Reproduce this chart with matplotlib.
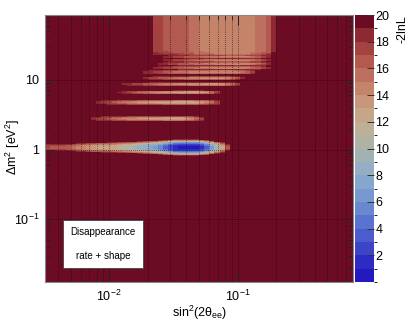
import numpy as np
import matplotlib
matplotlib.use("Agg")
import matplotlib.pyplot as plt
from matplotlib.colors import ListedColormap, BoundaryNorm
from matplotlib.ticker import LogLocator, NullFormatter, FixedLocator

plt.rcParams['font.family'] = ['Liberation Sans', 'DejaVu Sans']
plt.rcParams['mathtext.fontset'] = 'custom'
plt.rcParams['mathtext.rm'] = 'Liberation Sans'
plt.rcParams['mathtext.it'] = 'Liberation Sans:italic'
plt.rcParams['mathtext.default'] = 'regular'

# axis ranges / binning
x_lo, x_hi = 10**-2.5, 10**-0.1
y_lo, y_hi = 10**-1.9, 10**1.93
n_xbins, n_ybins = 60, 260

# main minimum near dm2 ~ 1 eV^2 : -2lnL along the valley
main_dm2 = 1.07
main_x = [0.0032, 0.0046, 0.0055, 0.0078, 0.0111, 0.0151, 0.019, 0.024, 0.0286,
          0.0343, 0.049, 0.0585, 0.0663, 0.0752, 0.0822, 0.09]
main_val = [17, 16.5, 15, 13, 12, 10, 8, 6, 3, 0.5, 0.5, 4, 8, 12, 16, 20]

# aliased stripes at higher dm2 (centre, left end, best x, right end, min value)
stripe_dm2 = [2.8, 4.7, 6.6, 8.7, 10.7, 12.9, 14.7, 16.8, 19.0, 21.3, 23.8]
stripe_xl = [0.0063, 0.0071, 0.0107, 0.0112, 0.0155, 0.0158, 0.0195, 0.021, 0.022, 0.022, 0.022]
stripe_xp = [0.034, 0.041, 0.047, 0.066, 0.072, 0.087, 0.095, 0.105, 0.105, 0.105, 0.105]
stripe_xr = [0.0575, 0.079, 0.076, 0.112, 0.117, 0.148, 0.186, 0.195, 0.19, 0.19, 0.19]
stripe_min = [12.5, 12, 12.5, 13, 13.5, 14, 14, 14, 14.5, 14.5, 14.5]

# fast-oscillation (averaged) region at large dm2
fast_dm2 = 26
fast_x = [0.019, 0.021, 0.0228, 0.0272, 0.0355, 0.0465, 0.0585, 0.098, 0.124, 0.153, 0.184, 0.194]
fast_val = [20, 19, 18, 17, 16.5, 15.5, 14.5, 14, 14.5, 15.5, 17, 20]

cb_colors = ['#2418c0', '#2c2cc4', '#3c44c8', '#4c5ccc', '#5a72d0', '#6888d0',
             '#7898d0', '#86a6cc', '#94aec4', '#a2b2b4', '#b0b2a4', '#beb098',
             '#c6a688', '#c8967a', '#c4846a', '#be7060', '#b25a50', '#a44240',
             '#8e2832', '#6c0c24']

xe = np.logspace(np.log10(x_lo), np.log10(x_hi), n_xbins + 1)
ye = np.logspace(np.log10(y_lo), np.log10(y_hi), n_ybins + 1)
lx = np.log10(np.sqrt(xe[1:] * xe[:-1]))[None, :]
ly = np.log10(np.sqrt(ye[1:] * ye[:-1]))[:, None]

Z = np.full((n_ybins, n_xbins), 20.0)

ridge = np.interp(lx, np.log10(main_x), main_val, left=main_val[0], right=20)
d = (ly - np.log10(main_dm2)) / 0.114
Z = np.minimum(Z, ridge + 19 * d**2)

for i, m in enumerate(stripe_dm2):
    l, p, r = np.log10(stripe_xl[i]), np.log10(stripe_xp[i]), np.log10(stripe_xr[i])
    w = np.where(lx < p, p - l, r - p)
    vx = np.minimum(stripe_min[i] + (20 - stripe_min[i]) * ((lx - p) / w)**2, 20)
    wy = 0.04 if i < 2 else 0.03
    d = (ly - np.log10(m)) / wy
    Z = np.minimum(Z, vx + (20 - vx) * d**2)

vx = np.interp(lx, np.log10(fast_x), fast_val, left=20, right=20)
d = np.clip((np.log10(fast_dm2) - ly) / 0.08, 0, None)
Z = np.minimum(Z, vx + (20 - vx) * d**2)
Z = np.clip(Z, 0, 19.99)

fig = plt.figure(figsize=(4.15, 3.28), dpi=100)
ax = fig.add_axes([45/415, 1 - 282/328, 308/415, 267/328])
cax = fig.add_axes([355/415, 1 - 282/328, 19/415, 267/328])

cmap = ListedColormap(cb_colors)
norm = BoundaryNorm(np.arange(0, 21, 1), cmap.N)
mesh = ax.pcolormesh(xe, ye, Z, cmap=cmap, norm=norm, shading='flat', rasterized=True)
ax.set_xscale('log')
ax.set_yscale('log')
ax.set_xlim(x_lo, x_hi)
ax.set_ylim(y_lo, y_hi)

ax.xaxis.set_major_locator(FixedLocator([0.01, 0.1]))
ax.set_xticklabels(['$10^{-2}$', '$10^{-1}$'])
ax.yaxis.set_major_locator(FixedLocator([0.1, 1, 10]))
ax.set_yticklabels(['$10^{-1}$', '1', '10'])
ax.xaxis.set_minor_locator(LogLocator(base=10, subs=np.arange(2, 10)))
ax.yaxis.set_minor_locator(LogLocator(base=10, subs=np.arange(2, 10)))
ax.xaxis.set_minor_formatter(NullFormatter())
ax.yaxis.set_minor_formatter(NullFormatter())
ax.tick_params(which='both', direction='in', top=True, right=True, color='#222222',
               labelsize=9)
ax.tick_params(which='major', length=7, width=0.7)
ax.tick_params(which='minor', length=3.5, width=0.6)
ax.tick_params(axis='x', pad=5)
ax.tick_params(axis='y', pad=4)
ax.grid(True, which='both', axis='x', linestyle=(0, (1, 2)), color='#1a0008', lw=0.5)
ax.grid(True, which='major', axis='y', linestyle=(0, (1, 2)), color='#1a0008', lw=0.5)
for s in ax.spines.values():
    s.set_color('#888888')
    s.set_linewidth(0.8)

fig.text(199/415, 1 - 313/328, r'sin$^{2}$(2$\theta_{ee}$)', ha='center', va='center', fontsize=9)
fig.text(13/415, 1 - 147/328, r'$\Delta$m$^{2}$ [eV$^{2}$]', ha='center', va='center',
         rotation=90, fontsize=9)

ax.text(0.00898, 0.044, 'Disappearance\n\nrate + shape', ha='center', va='center',
        fontsize=7, linespacing=1.25,
        bbox=dict(boxstyle='square,pad=0.75', fc='white', ec='#444444', lw=0.6))

cb = fig.colorbar(mesh, cax=cax, ticks=np.arange(2, 21, 2))
cb.outline.set_visible(False)
cax.tick_params(direction='in', length=5, width=0.7, color='#333333', labelsize=9, pad=1)
cax.set_yticklabels([str(v) for v in range(2, 21, 2)])
fig.text(402/415, 1 - 15/328, '-2lnL', rotation=90, ha='center', va='top', fontsize=9)

fig.savefig('out.png', dpi=100)
